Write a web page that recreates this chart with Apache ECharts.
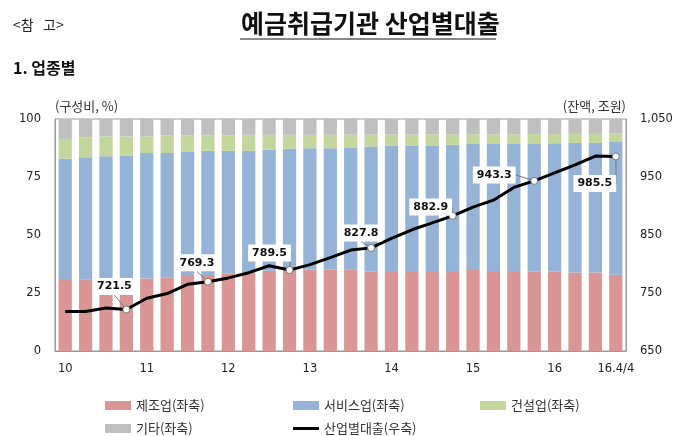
<!DOCTYPE html>
<html>
<head>
<meta charset="utf-8">
<script src="https://cdn.jsdelivr.net/npm/echarts@6/dist/echarts.min.js"></script>
<style>html,body{margin:0;padding:0;background:#fff}#c{width:700px;height:436px}</style>
</head>
<body>
<div id="c"></div>
<script>
// Quarters 2010 Q1 .. 2016 Q4
const quarters = [
 '10.1/4','10.2/4','10.3/4','10.4/4','11.1/4','11.2/4','11.3/4','11.4/4',
 '12.1/4','12.2/4','12.3/4','12.4/4','13.1/4','13.2/4','13.3/4','13.4/4',
 '14.1/4','14.2/4','14.3/4','14.4/4','15.1/4','15.2/4','15.3/4','15.4/4',
 '16.1/4','16.2/4','16.3/4','16.4/4'
];
const tickLabels = ['10','','','','11','','','','12','','','','13','','','','14','','','','15','','','','16','','','16.4/4'];

// composition (%) left axis
const manufacturing = [30.6,30.9,31.0,31.2,31.3,31.8,32.8,32.8,33.5,33.9,34.6,34.9,35.1,35.1,35.2,34.2,34.5,34.5,34.5,34.5,34.9,34.5,34.5,34.2,34.2,33.8,33.8,32.9];
const services      = [52.3,52.6,52.9,53.1,54.0,53.5,53.0,53.5,52.8,52.4,52.3,52.3,52.3,52.3,52.3,53.9,53.9,53.9,53.9,54.4,54.3,54.7,54.7,55.0,55.3,55.9,55.9,57.2];
const construction  = [8.5,8.6,8.6,8.2,7.2,7.7,7.2,6.7,6.7,6.9,6.3,6.0,5.8,5.8,5.8,5.2,4.9,4.9,5.0,4.5,4.2,4.2,4.2,4.3,4.0,3.9,3.9,3.7];
const others        = [8.6,7.9,7.5,7.5,7.5,7.0,7.0,7.0,7.0,6.8,6.8,6.8,6.8,6.8,6.7,6.7,6.7,6.7,6.6,6.6,6.6,6.6,6.6,6.5,6.5,6.4,6.4,6.2];
// outstanding loans (trillion won) right axis
const totalLoans    = [718,718,724,721.5,741,749,765,769.3,776,785,797,789.5,799,811,824,827.8,844,859,871,882.9,898,910,932,943.3,957,971,986,985.5];

const names = ['제조업(좌축)','서비스업(좌축)','건설업(좌축)','기타(좌축)','산업별대출(우축)'];
const colors = ['#D99694','#95B3D7','#C3D69B','#BFBFBF','#000000'];

// label offsets (style) for the annotated Q4 points
const labelOffsets = {3:[-12,-23],7:[-11,-19],11:[-20,-17],15:[-10,-15],19:[-22,-9],23:[-40,-6],27:[-21,27]};

const lineData = totalLoans.map((v,i)=> (i%4===3) ? {
  value: v, symbol:'circle', symbolSize:7,
  itemStyle:{color:'#fff', borderColor:'#777', borderWidth:1},
  label:{show:true}
} : {value:v, symbol:'none'});

const chart = echarts.init(document.getElementById('c'), null, {renderer:'canvas'});
const barSeries = [manufacturing, services, construction, others].map((d,k)=>({
  name: names[k], type:'bar', stack:'comp', data:d, barCategoryGap:'35%',
  itemStyle:{color:colors[k]}, yAxisIndex:0, silent:true
}));

const legendFont = {fontFamily:'"Noto Sans CJK KR", sans-serif', fontSize:13, color:'#333'};
function leg(name, left, top, isLine){
  return {data:[name], left:left, top:top, itemWidth:26, itemHeight: isLine?3:9, itemGap:4,
    textStyle:legendFont, selectedMode:false, icon:'rect'};
}

chart.setOption({
  animation:false,
  backgroundColor:'#fff',
  title:[
    {text:'예금취급기관 산업별대출', left:236, top:6,
     textStyle:{fontFamily:'"Noto Sans CJK KR", serif', fontSize:25, fontWeight:'bold', color:'#111'}},
    {text:'<참   고>', left:8, top:13,
     textStyle:{fontFamily:'"Noto Sans CJK KR", serif', fontSize:14, fontWeight:'normal', color:'#222'}},
    {text:'1. 업종별', left:8, top:55,
     textStyle:{fontFamily:'"Noto Sans CJK KR", serif', fontSize:16, fontWeight:'bold', color:'#111'}}
  ],
  graphic:[
    {type:'line', shape:{x1:240,y1:39,x2:496,y2:39}, style:{stroke:'#888', lineWidth:2}}
  ],
  legend:[
    leg(names[0],100,394,false),
    leg(names[1],288,394,false),
    leg(names[2],475,394,false),
    leg(names[3],100,417,false),
    leg(names[4],288,417,true)
  ],
  grid:{left:55, right:74, top:119, bottom:85, show:true, borderColor:'#999', borderWidth:1},
  xAxis:{type:'category', data:quarters,
    axisLine:{show:true, lineStyle:{color:'#999'}}, axisTick:{show:false},
    axisLabel:{interval:0, margin:12, fontFamily:'"DejaVu Sans", sans-serif', fontSize:11.5, color:'#222',
      formatter:(v,i)=>tickLabels[i]}},
  yAxis:[
    {type:'value', min:0, max:100, interval:25, position:'left',
     name:'(구성비, %)', nameLocation:'end', nameGap:6,
     nameTextStyle:{fontFamily:'"Noto Sans CJK KR", sans-serif', fontSize:13, color:'#333', align:'left'},
     axisLine:{show:true, lineStyle:{color:'#999'}}, axisTick:{show:false}, splitLine:{show:false},
     axisLabel:{margin:14, fontFamily:'"DejaVu Sans", sans-serif', fontSize:11.5, color:'#222'}},
    {type:'value', min:650, max:1050, interval:100, position:'right',
     name:'(잔액, 조원)', nameLocation:'end', nameGap:6,
     nameTextStyle:{fontFamily:'"Noto Sans CJK KR", sans-serif', fontSize:13, color:'#333', align:'right'},
     axisLine:{show:true, lineStyle:{color:'#999'}}, axisTick:{show:false}, splitLine:{show:false},
     axisLabel:{margin:14, fontFamily:'"DejaVu Sans", sans-serif', fontSize:11.5, color:'#222',
       formatter:v=>v.toLocaleString('en-US')}}
  ],
  series: barSeries.concat([{
    name:names[4], type:'line', yAxisIndex:1, data:lineData, z:5,
    lineStyle:{color:'#000', width:3}, itemStyle:{color:'#000'},
    label:{show:false, position:'inside', formatter:p=>p.value,
      fontFamily:'"DejaVu Sans", sans-serif', fontSize:11, fontWeight:'bold', color:'#111',
      backgroundColor:'#fff', padding:[3,4,3,4]},
    labelLine:{show:true, lineStyle:{color:'#777', width:1}},
    labelLayout:function(p){
      const o = labelOffsets[p.dataIndex] || [0,0];
      const cx = p.rect.x + p.rect.width/2, cy = p.rect.y + p.rect.height/2;
      return {x: cx + o[0], y: cy + o[1], align:'center', verticalAlign:'middle'};
    },
    silent:true
  }])
});
</script>
</body>
</html>
